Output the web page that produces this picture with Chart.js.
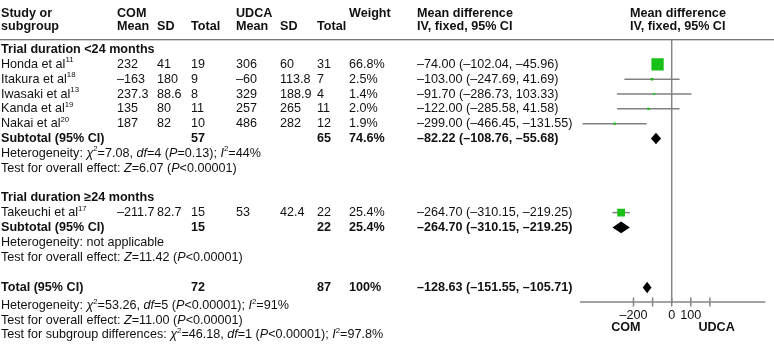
<!DOCTYPE html>
<html>
<head>
<meta charset="utf-8">
<script src="https://cdn.jsdelivr.net/npm/chart.js@4.4.1/dist/chart.umd.min.js"></script>
<style>
    html, body { margin: 0; padding: 0; background: #fff; overflow: hidden; }
</style>
</head>
<body>
<canvas id="forestChart" width="774" height="349"></canvas>
<script>
// study rows
const studies = ['Honda et al', 'Itakura et al', 'Iwasaki et al', 'Kanda et al', 'Nakai et al', 'Takeuchi et al'];
const refs = ['11', '18', '13', '19', '20', '17'];
const studyGroup = [0, 0, 0, 0, 0, 1];
const comMean = [232, -163, 237.3, 135, 187, -211.7];
const comSD = [41, 180, 88.6, 80, 82, 82.7];
const comN = [19, 9, 8, 11, 10, 15];
const udcaMean = [306, -60, 329, 257, 486, 53];
const udcaSD = [60, 113.8, 188.9, 265, 282, 42.4];
const udcaN = [31, 7, 4, 11, 12, 22];
const weights = [66.8, 2.5, 1.4, 2.0, 1.9, 25.4];
const md = [-74.00, -103.00, -91.70, -122.00, -299.00, -264.70];
const mdLow = [-102.04, -247.69, -286.73, -285.58, -466.45, -310.15];
const mdHigh = [-45.96, 41.69, 103.33, 41.58, -131.55, -219.25];

// subgroups + overall
const groupTitles = ['Trial duration <24 months', 'Trial duration \u226524 months'];
const subLabels = ['Subtotal (95% CI)', 'Subtotal (95% CI)', 'Total (95% CI)'];
const subComN = [57, 15, 72];
const subUdcaN = [65, 22, 87];
const subWeight = ['74.6%', '25.4%', '100%'];
const subMd = [-82.22, -264.70, -128.63];
const subLow = [-108.76, -310.15, -151.55];
const subHigh = [-55.68, -219.25, -105.71];
const notes = [
    ['Heterogeneity: _\u03c7_^2^=7.08, _df_=4 (_P_=0.13); _I_^2^=44%',
     'Test for overall effect: _Z_=6.07 (_P_<0.00001)'],
    ['Heterogeneity: not applicable',
     'Test for overall effect: _Z_=11.42 (_P_<0.00001)'],
    ['Heterogeneity: _\u03c7_^2^=53.26, _df_=5 (_P_<0.00001); _I_^2^=91%',
     'Test for overall effect: _Z_=11.00 (_P_<0.00001)',
     'Test for subgroup differences: _\u03c7_^2^=46.18, _df_=1 (_P_<0.00001); _I_^2^=97.8%']
];

// axis
const tickValues = [-200, -100, 0, 100, 200];
const tickLabels = ['\u2013200', '', '0', '100', ''];
const favourLabels = ['COM', 'UDCA'];

const FONT = '"Liberation Sans", Arial, Helvetica, sans-serif';
const FS = 12.6;

// layout (row units on the y scale)
const studyRows = [1, 2, 3, 4, 5, 11];
const titleRows = [0, 10];
const subRows = [6, 12, 16.05];
const noteRows = [[7, 8], [13.05, 14.05], [17.3, 18.27, 19.23]];
const headRows = [-2.44, -1.54];
const headLineRow = -0.66;
const axisRow = 17.03;
const tickLabelRow = 17.93;
const favourRow = 18.72;
const cols = { study: 1, cm: 117, csd: 157, cn: 191, um: 236, usd: 280, un: 317, w: 349, md: 417, plot: 630 };

function dash(v) {
    return String(v).replace(/-/g, '\u2013');
}

function ciText(m, lo, hi) {
    return dash(m.toFixed(2)) + ' (' + dash(lo.toFixed(2)) + ', ' + dash(hi.toFixed(2)) + ')';
}

// draws text with _italic_ and ^superscript^ runs
function drawRich(ctx, str, x, y, bold) {
    const parts = str.split(/(_[^_]+_|\^[^^]+\^)/).filter(Boolean);
    let cx = x;
    parts.forEach((p) => {
        let txt = p;
        let style = bold ? 'bold ' : '';
        let size = FS;
        let dy = 0;
        if (p.startsWith('_')) {
            txt = p.slice(1, -1);
            style = 'italic ' + style;
        } else if (p.startsWith('^')) {
            txt = p.slice(1, -1);
            size = FS * 0.62;
            dy = -FS * 0.33;
        }
        ctx.font = style + size + 'px ' + FONT;
        ctx.fillText(txt, cx, y + dy);
        cx += ctx.measureText(txt).width;
    });
}

function text(ctx, str, x, y, bold, align) {
    ctx.font = (bold ? 'bold ' : '') + FS + 'px ' + FONT;
    ctx.textAlign = align || 'left';
    ctx.fillText(str, x, y);
    ctx.textAlign = 'left';
}

const forestPlugin = {
    id: 'forest',
    beforeDatasetsDraw(chart) {
        const ctx = chart.ctx;
        const xs = chart.scales.x;
        const ys = chart.scales.y;
        ctx.save();
        // header rule
        ctx.strokeStyle = '#4a4a4a';
        ctx.lineWidth = 1.2;
        ctx.beginPath();
        ctx.moveTo(0, ys.getPixelForValue(headLineRow));
        ctx.lineTo(chart.width, ys.getPixelForValue(headLineRow));
        ctx.stroke();

        ctx.strokeStyle = '#858585';
        ctx.lineWidth = 1.5;
        const ay = ys.getPixelForValue(axisRow);
        // line of no effect
        ctx.beginPath();
        ctx.moveTo(xs.getPixelForValue(0), ys.getPixelForValue(headLineRow));
        ctx.lineTo(xs.getPixelForValue(0), ay);
        ctx.stroke();
        // x axis
        ctx.beginPath();
        ctx.moveTo(xs.left, ay);
        ctx.lineTo(xs.right, ay);
        tickValues.forEach((v) => {
            ctx.moveTo(xs.getPixelForValue(v), ay - 4.5);
            ctx.lineTo(xs.getPixelForValue(v), ay + 4.5);
        });
        ctx.stroke();

        // confidence intervals
        ctx.strokeStyle = '#808080';
        ctx.lineWidth = 1.5;
        studies.forEach((s, i) => {
            const y = ys.getPixelForValue(studyRows[i]);
            ctx.beginPath();
            ctx.moveTo(xs.getPixelForValue(mdLow[i]), y);
            ctx.lineTo(xs.getPixelForValue(mdHigh[i]), y);
            ctx.stroke();
        });
        ctx.restore();
    },
    afterDatasetsDraw(chart) {
        const ctx = chart.ctx;
        const xs = chart.scales.x;
        const ys = chart.scales.y;
        ctx.save();
        // pooled diamonds
        ctx.fillStyle = '#000';
        subMd.forEach((m, i) => {
            const y = ys.getPixelForValue(subRows[i]);
            ctx.beginPath();
            ctx.moveTo(xs.getPixelForValue(subLow[i]), y);
            ctx.lineTo(xs.getPixelForValue(m), y - 5.8);
            ctx.lineTo(xs.getPixelForValue(subHigh[i]), y);
            ctx.lineTo(xs.getPixelForValue(m), y + 5.8);
            ctx.closePath();
            ctx.fill();
        });

        ctx.fillStyle = '#111';
        ctx.textBaseline = 'middle';
        // header
        const h1 = ys.getPixelForValue(headRows[0]);
        const h2 = ys.getPixelForValue(headRows[1]);
        text(ctx, 'Study or', cols.study, h1, true);
        text(ctx, 'subgroup', cols.study, h2, true);
        text(ctx, 'COM', cols.cm, h1, true);
        text(ctx, 'Mean', cols.cm, h2, true);
        text(ctx, 'SD', cols.csd, h2, true);
        text(ctx, 'Total', cols.cn, h2, true);
        text(ctx, 'UDCA', cols.um, h1, true);
        text(ctx, 'Mean', cols.um, h2, true);
        text(ctx, 'SD', cols.usd, h2, true);
        text(ctx, 'Total', cols.un, h2, true);
        text(ctx, 'Weight', cols.w, h1, true);
        text(ctx, 'Mean difference', cols.md, h1, true);
        text(ctx, 'IV, fixed, 95% CI', cols.md, h2, true);
        text(ctx, 'Mean difference', cols.plot, h1, true);
        text(ctx, 'IV, fixed, 95% CI', cols.plot, h2, true);

        groupTitles.forEach((t, g) => {
            text(ctx, t, cols.study, ys.getPixelForValue(titleRows[g]), true);
        });

        studies.forEach((s, i) => {
            const y = ys.getPixelForValue(studyRows[i]);
            drawRich(ctx, s + '^' + refs[i] + '^', cols.study, y, false);
            text(ctx, dash(comMean[i]), cols.cm, y);
            text(ctx, String(comSD[i]), cols.csd, y);
            text(ctx, String(comN[i]), cols.cn, y);
            text(ctx, dash(udcaMean[i]), cols.um, y);
            text(ctx, String(udcaSD[i]), cols.usd, y);
            text(ctx, String(udcaN[i]), cols.un, y);
            text(ctx, weights[i].toFixed(1) + '%', cols.w, y);
            text(ctx, ciText(md[i], mdLow[i], mdHigh[i]), cols.md, y);
        });

        subLabels.forEach((t, i) => {
            const y = ys.getPixelForValue(subRows[i]);
            text(ctx, t, cols.study, y, true);
            text(ctx, String(subComN[i]), cols.cn, y, true);
            text(ctx, String(subUdcaN[i]), cols.un, y, true);
            text(ctx, subWeight[i], cols.w, y, true);
            text(ctx, ciText(subMd[i], subLow[i], subHigh[i]), cols.md, y, true);
            notes[i].forEach((n, k) => {
                drawRich(ctx, n, cols.study, ys.getPixelForValue(noteRows[i][k]), false);
            });
        });

        // tick labels and favour labels
        const ty = ys.getPixelForValue(tickLabelRow);
        tickValues.forEach((v, i) => {
            if (tickLabels[i]) text(ctx, tickLabels[i], xs.getPixelForValue(v), ty, false, 'center');
        });
        const fy = ys.getPixelForValue(favourRow);
        text(ctx, favourLabels[0], xs.getPixelForValue(-240), fy, true, 'center');
        text(ctx, favourLabels[1], xs.getPixelForValue(235), fy, true, 'center');
        ctx.restore();
    }
};

const ctx = document.getElementById('forestChart').getContext('2d');
const forestChart = new Chart(ctx, {
    type: 'scatter',
    data: {
        datasets: [{
            label: 'Studies',
            data: studies.map((s, i) => ({ x: md[i], y: studyRows[i] })),
            pointStyle: 'rect',
            pointRadius: weights.map(w => 1.04 * Math.sqrt(w) + 0.2),
            pointHoverRadius: weights.map(w => 1.04 * Math.sqrt(w) + 0.2),
            backgroundColor: '#18c118',
            borderWidth: 0,
        }]
    },
    options: {
        responsive: false,
        animation: false,
        devicePixelRatio: 1,
        layout: { padding: { left: 580, right: 0, top: 0, bottom: 0 } },
        scales: {
            x: { type: 'linear', min: -480, max: 490, display: false },
            y: { type: 'linear', min: -43 / 15.6, max: 306 / 15.6, reverse: true, display: false },
        },
        plugins: {
            legend: { display: false },
            tooltip: { enabled: false },
        },
    },
    plugins: [forestPlugin],
});
</script>
</body>
</html>
